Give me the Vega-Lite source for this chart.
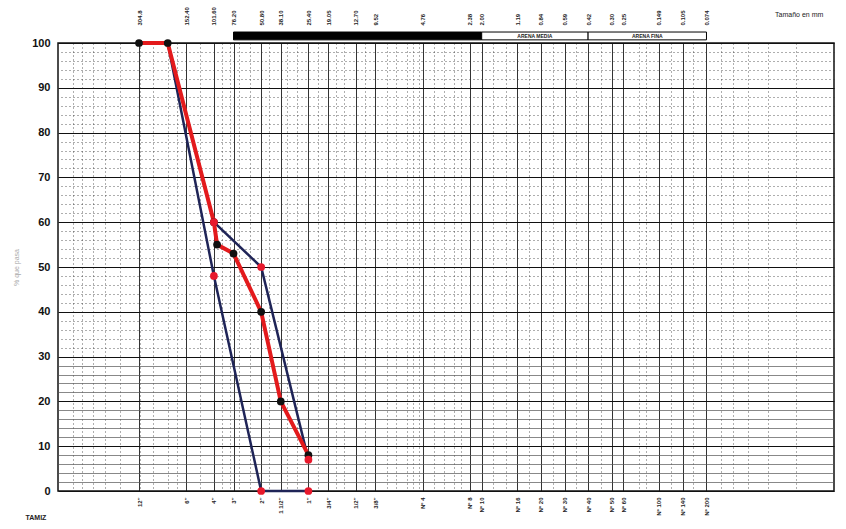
{
  "$schema": "https://vega.github.io/schema/vega-lite/v6.json",
  "width": 776,
  "height": 448,
  "autosize": {"type": "none"},
  "padding": {"left": 58, "top": 43, "right": 12, "bottom": 38},
  "background": "white",
  "config": {"view": {"stroke": "#111", "strokeWidth": 1.5}, "font": "Liberation Sans"},
  "datasets": {
    "curvas": [
      {"serie": "Límite superior", "abertura": 304.8, "pasa": 100},
      {"serie": "Límite superior", "abertura": 200, "pasa": 100},
      {"serie": "Límite superior", "abertura": 101.6, "pasa": 60},
      {"serie": "Límite superior", "abertura": 50.8, "pasa": 50},
      {"serie": "Límite superior", "abertura": 25.4, "pasa": 7},
      {"serie": "Límite inferior", "abertura": 304.8, "pasa": 100},
      {"serie": "Límite inferior", "abertura": 200, "pasa": 100},
      {"serie": "Límite inferior", "abertura": 101.6, "pasa": 48},
      {"serie": "Límite inferior", "abertura": 50.8, "pasa": 0},
      {"serie": "Límite inferior", "abertura": 25.4, "pasa": 0},
      {"serie": "Muestra", "abertura": 304.8, "pasa": 100},
      {"serie": "Muestra", "abertura": 200, "pasa": 100},
      {"serie": "Muestra", "abertura": 101.6, "pasa": 60},
      {"serie": "Muestra", "abertura": 97, "pasa": 55},
      {"serie": "Muestra", "abertura": 76.2, "pasa": 53},
      {"serie": "Muestra", "abertura": 50.8, "pasa": 40},
      {"serie": "Muestra", "abertura": 38.1, "pasa": 20},
      {"serie": "Muestra", "abertura": 25.4, "pasa": 8}
    ],
    "zonas": [
      {"zona": "GRAVA", "desde": 76.2, "hasta": 2.0},
      {"zona": "ARENA MEDIA", "desde": 2.0, "hasta": 0.42},
      {"zona": "ARENA FINA", "desde": 0.42, "hasta": 0.074}
    ]
  },
  "resolve": {"axis": {"x": "independent", "y": "independent"}},
  "layer": [
    {
      "data": {"name": "curvas"},
      "transform": [{"filter": "datum.serie === 'Límite superior'"}],
      "mark": {"type": "line", "color": "#1f2457", "strokeWidth": 2.5},
      "encoding": {
        "x": {"field": "abertura", "type": "quantitative",
          "scale": {"type": "log", "domain": [0.0114, 1000], "reverse": true, "nice": false},
          "axis": {"orient": "top", "title": null, "ticks": false, "domain": false,
            "values": [304.8, 152.4, 101.6, 76.2, 50.8, 38.1, 25.4, 19.05, 12.7, 9.52, 4.76, 2.38, 2, 1.19, 0.84, 0.59, 0.42, 0.297, 0.25, 0.149, 0.105, 0.074],
            "labelExpr": "{'304.8':'304.8','152.4':'152.40','101.6':'101.60','76.2':'76.20','50.8':'50.80','38.1':'38.10','25.4':'25.40','19.05':'19.05','12.7':'12.70','9.52':'9.52','4.76':'4.76','2.38':'2.38','2':'2.00','1.19':'1.19','0.84':'0.84','0.59':'0.59','0.42':'0.42','0.297':'0.30','0.25':'0.25','0.149':'0.149','0.105':'0.105','0.074':'0.074'}['' + datum.value]",
            "labelAngle": 270, "labelFontSize": 6, "labelFontWeight": "bold", "labelColor": "#222",
            "labelPadding": 18, "labelOverlap": false, "labelBound": false, "labelFlush": false,
            "grid": true, "gridColor": "#111", "gridWidth": 1, "gridOpacity": 0.85}},
        "y": {"field": "pasa", "type": "quantitative",
          "scale": {"domain": [0, 100], "nice": false},
          "axis": {"orient": "left", "values": [0, 10, 20, 30, 40, 50, 60, 70, 80, 90, 100],
            "ticks": false, "domain": false, "labelPadding": 8, "labelFontSize": 11,
            "labelFontWeight": "bold", "labelColor": "#111",
            "grid": true, "gridColor": "#111", "gridWidth": 1.2,
            "title": "% que pasa", "titleFontSize": 7, "titleColor": "#aaa", "titleFontWeight": "normal", "titlePadding": 12}}
      }
    },
    {
      "data": {"name": "curvas"},
      "transform": [{"filter": "datum.serie === 'Límite inferior'"}],
      "mark": {"type": "line", "color": "#1f2457", "strokeWidth": 2.5},
      "encoding": {
        "x": {"field": "abertura", "type": "quantitative",
          "scale": {"type": "log", "domain": [0.0114, 1000], "reverse": true, "nice": false},
          "axis": {"orient": "bottom", "ticks": false, "domain": false, "grid": false,
            "values": [304.8, 152.4, 101.6, 76.2, 50.8, 38.1, 25.4, 19.05, 12.7, 9.52, 4.76, 2.38, 2, 1.19, 0.84, 0.59, 0.42, 0.297, 0.25, 0.149, 0.105, 0.074],
            "labelExpr": "{'304.8':'12\"','152.4':'6\"','101.6':'4\"','76.2':'3\"','50.8':'2\"','38.1':'1 1/2\"','25.4':'1\"','19.05':'3/4\"','12.7':'1/2\"','9.52':'3/8\"','4.76':'Nº 4','2.38':'Nº 8','2':'Nº 10','1.19':'Nº 16','0.84':'Nº 20','0.59':'Nº 30','0.42':'Nº 40','0.297':'Nº 50','0.25':'Nº 60','0.149':'Nº 100','0.105':'Nº 140','0.074':'Nº 200'}['' + datum.value]",
            "labelAngle": 270, "labelFontSize": 6, "labelFontWeight": "bold", "labelColor": "#222",
            "labelPadding": 6, "labelOverlap": false, "labelBound": false, "labelFlush": false,
            "title": "TAMIZ", "titleX": -33, "titleY": 26, "titleAlign": "left", "titleBaseline": "middle",
            "titleAngle": 0, "titleFontSize": 7, "titleFontWeight": "bold", "titleColor": "#222"}},
        "y": {"field": "pasa", "type": "quantitative",
          "scale": {"domain": [0, 100], "nice": false},
          "axis": {"orient": "left", "values": [32, 34, 36, 38, 42, 44, 46, 48, 52, 54, 56, 58, 62, 64, 66, 68, 72, 74, 76, 78, 82, 84, 86, 88, 92, 94, 96, 98],
            "labels": false, "ticks": false, "domain": false, "title": null,
            "grid": true, "gridColor": "#333", "gridWidth": 0.8, "gridDash": [1, 3]}}
      }
    },
    {
      "data": {"name": "curvas"},
      "transform": [{"filter": "datum.serie === 'Muestra'"}],
      "mark": {"type": "line", "color": "#e31a1c", "strokeWidth": 4},
      "encoding": {
        "x": {"field": "abertura", "type": "quantitative",
          "scale": {"type": "log", "domain": [0.0114, 1000], "reverse": true, "nice": false},
          "axis": {"orient": "bottom", "labels": false, "ticks": false, "domain": false, "title": null,
            "values": [800, 700, 600, 500, 400, 300, 250, 200, 175, 125, 90, 80, 70, 60, 45, 35, 30, 22, 17, 15, 11, 8, 7, 6, 5.5, 5, 4, 3.5, 3, 2.7, 1.7, 1.4, 1, 0.7, 0.5, 0.35, 0.2, 0.18, 0.125, 0.09, 0.06, 0.05, 0.04, 0.03, 0.02],
            "grid": true, "gridColor": "#333", "gridWidth": 0.8, "gridDash": [1, 3]}},
        "y": {"field": "pasa", "type": "quantitative",
          "scale": {"domain": [0, 100], "nice": false},
          "axis": {"orient": "left", "values": [2, 4, 6, 8, 12, 14, 16, 18, 22, 24, 26, 28],
            "labels": false, "ticks": false, "domain": false, "title": null,
            "grid": true, "gridColor": "#555", "gridWidth": 0.7}}
      }
    },
    {
      "data": {"name": "curvas"},
      "transform": [{"filter": "datum.serie === 'Muestra'"}],
      "mark": {"type": "point", "filled": true, "color": "#111", "size": 60, "opacity": 1},
      "encoding": {
        "x": {"field": "abertura", "type": "quantitative",
          "scale": {"type": "log", "domain": [0.0114, 1000], "reverse": true, "nice": false}, "axis": null},
        "y": {"field": "pasa", "type": "quantitative", "scale": {"domain": [0, 100], "nice": false}, "axis": null}
      }
    },
    {
      "data": {"name": "curvas"},
      "transform": [{"filter": "datum.serie !== 'Muestra' && datum.pasa < 100"}],
      "mark": {"type": "point", "filled": true, "color": "#e8192c", "size": 60, "opacity": 1},
      "encoding": {
        "x": {"field": "abertura", "type": "quantitative",
          "scale": {"type": "log", "domain": [0.0114, 1000], "reverse": true, "nice": false}, "axis": null},
        "y": {"field": "pasa", "type": "quantitative", "scale": {"domain": [0, 100], "nice": false}, "axis": null}
      }
    },
    {
      "data": {"name": "zonas"},
      "mark": {"type": "rect", "stroke": "#000", "strokeWidth": 1},
      "encoding": {
        "x": {"field": "desde", "type": "quantitative",
          "scale": {"type": "log", "domain": [0.0114, 1000], "reverse": true, "nice": false}, "axis": null},
        "x2": {"field": "hasta"},
        "y": {"datum": 102.45, "type": "quantitative", "scale": {"domain": [0, 100], "nice": false}, "axis": null},
        "y2": {"datum": 100.7},
        "color": {"condition": {"test": "datum.zona === 'GRAVA'", "value": "#000"}, "value": "#fff"}
      }
    },
    {
      "data": {"name": "zonas"},
      "transform": [{"filter": "datum.zona !== 'GRAVA'"}, {"calculate": "sqrt(datum.desde * datum.hasta)", "as": "centro"}],
      "mark": {"type": "text", "fontSize": 5, "fontWeight": "bold", "color": "#222", "baseline": "middle"},
      "encoding": {
        "x": {"field": "centro", "type": "quantitative",
          "scale": {"type": "log", "domain": [0.0114, 1000], "reverse": true, "nice": false}, "axis": null},
        "y": {"datum": 101.6, "type": "quantitative", "scale": {"domain": [0, 100], "nice": false}, "axis": null},
        "text": {"field": "zona"}
      }
    },
    {
      "data": {"values": [{"rotulo": "Tamaño en mm"}]},
      "mark": {"type": "text", "fontSize": 7, "color": "#222", "align": "center", "baseline": "middle"},
      "encoding": {
        "x": {"datum": 0.019, "type": "quantitative",
          "scale": {"type": "log", "domain": [0.0114, 1000], "reverse": true, "nice": false}, "axis": null},
        "y": {"datum": 106.3, "type": "quantitative", "scale": {"domain": [0, 100], "nice": false}, "axis": null},
        "text": {"field": "rotulo"}
      }
    }
  ]
}
